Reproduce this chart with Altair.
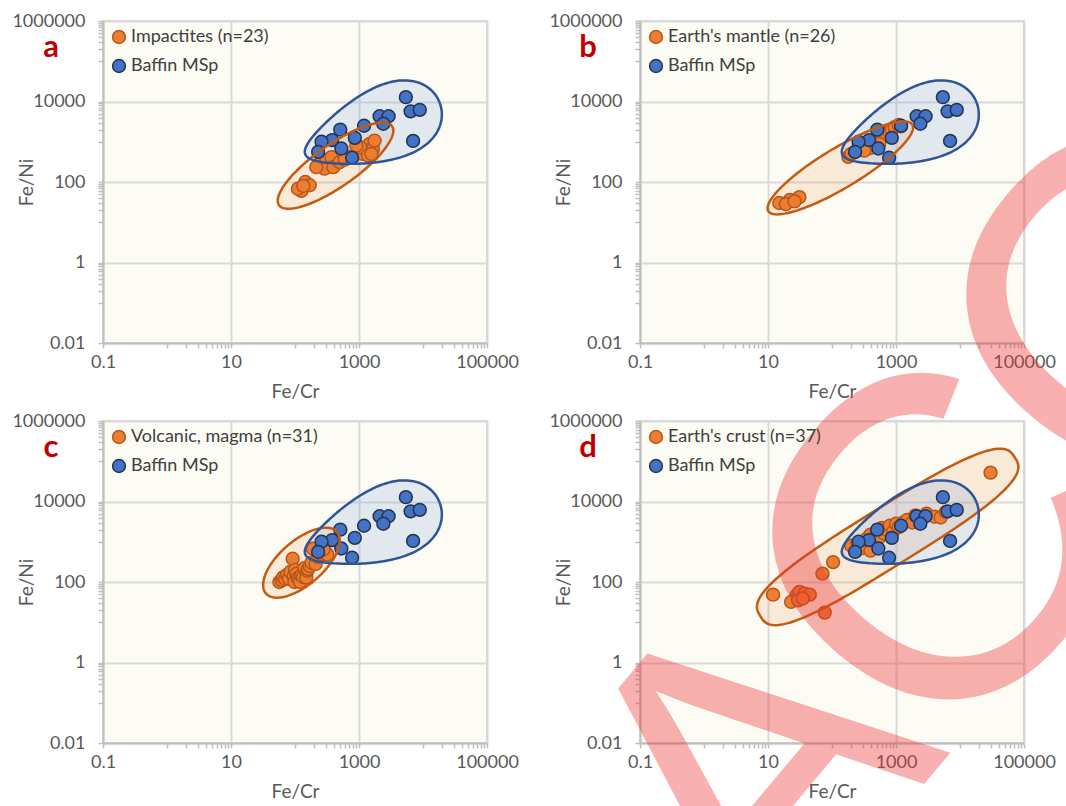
import numpy as np
import pandas as pd
import altair as alt

FONT = "Lato"
ORANGE, ORANGE_D = "#ed7d31", "#b5561b"
BLUE, BLUE_D = "#4472c4", "#24344f"
O_LINE, B_LINE = "#c55a11", "#2f5597"

# ---------------- data ----------------
baffin_x = [5400, 6400, 8900, 7000, 2100, 2900, 2400, 1200, 510, 860, 380, 260, 530, 230, 780]
baffin_y = [12800, 5700, 6200, 1050, 4300, 4300, 2800, 2500, 2000, 1250, 1100, 1000, 680, 560, 400]

impact_x = [145, 126, 170, 111, 135, 243, 309, 370, 291, 397, 215, 499, 714, 600,
            1470, 1300, 1650, 1150, 1750, 1050, 1380, 910, 1560]
impact_y = [100, 60, 83, 68, 80, 284, 343, 414, 214, 234, 234, 312, 414, 360,
            885, 605, 665, 500, 1070, 730, 455, 800, 500]

mantle_x = [15, 22, 31, 19, 26, 180, 200, 230, 260, 300, 350, 380, 420, 480, 520, 600,
            650, 700, 780, 850, 950, 1100, 1200, 400, 550, 320]
mantle_y = [30, 36, 42, 28, 33, 420, 500, 560, 620, 700, 800, 900, 1000, 1100, 1250, 1400,
            1500, 1600, 1800, 2000, 2300, 2600, 2400, 700, 900, 600]

volc_x = [57, 62, 65, 70, 75, 80, 85, 92, 95, 98, 100, 105, 110, 115, 120, 125, 133, 140,
          150, 155, 160, 170, 180, 190, 210, 230, 257, 270, 300, 320, 280]
volc_y = [100, 110, 130, 119, 150, 120, 180, 379, 140, 100, 200, 160, 125, 115, 100, 145,
          133, 220, 130, 190, 210, 250, 300, 670, 280, 420, 500, 600, 550, 480, 650]

crust_x = [12, 28, 31, 37.5, 45, 23, 29.5, 35, 77, 71, 104,
           200, 250, 300, 350, 400, 450, 500, 550, 600, 650, 700, 800, 900, 1000, 1100,
           1300, 1500, 1800, 2000, 2500, 3000, 4000, 5000, 6000, 400, 30000]
crust_y = [48.5, 47, 57, 51, 48.5, 32, 35, 39, 17.4, 161, 313,
           800, 900, 700, 1200, 1500, 1000, 1800, 1300, 2200, 1600, 2000, 2500, 1800, 2800, 2300,
           3000, 3500, 3000, 4500, 3800, 5000, 4200, 4000, 5500, 600, 52000]

# enclosing shapes: centre (data units), semi-axes (px), angle (deg), egg factor, exponent
PX_X, PX_Y = 64.0, 40.3  # px per decade, used only to shape the outlines
blue_shape = dict(cx=1620, cy=2150, a=72, b=35, ang=21, k=0.4, p=2.0)
panels = [
    dict(letter="a", name="Impactites (n=23)", x=impact_x, y=impact_y,
         shape=dict(cx=430, cy=255, a=69, b=21, ang=35, k=0.0, p=2.0)),
    dict(letter="b", name="Earth's mantle (n=26)", x=mantle_x, y=mantle_y,
         shape=dict(cx=135, cy=224, a=84, b=20, ang=31, k=0.0, p=2.0)),
    dict(letter="c", name="Volcanic, magma (n=31)", x=volc_x, y=volc_y,
         shape=dict(cx=126, cy=302, a=47, b=22, ang=41, k=0.0, p=2.0)),
    dict(letter="d", name="Earth's crust (n=37)", x=crust_x, y=crust_y,
         shape=dict(cx=741, cy=1318, a=150, b=29, ang=32, k=0.0, p=3.0)),
]

# watermark glyphs (text, font size)
wm_glyphs = ["A", "C", "C"]
wm_sizes = [430, 460, 460]

x_major = [0.1, 10, 1000, 100000]
y_major = [0.01, 1, 100, 10000, 1000000]


def minors(majors):
    out = []
    for m in majors[:-1]:
        out += [round(m * 10 * k, 10) for k in range(1, 10)]
    return out


x_ticks = x_major + minors(x_major)
y_ticks = y_major + minors(y_major)


def outline(cx, cy, a, b, ang, k, p, n=181):
    t = np.linspace(0, 2 * np.pi, n)
    c, s = np.cos(t), np.sin(t)
    u = a * np.sign(c) * np.abs(c) ** (2 / p)
    v = b * np.sign(s) * np.abs(s) ** (2 / p) * (1 + k * c)
    th = np.radians(ang)
    X = u * np.cos(th) - v * np.sin(th)
    Y = u * np.sin(th) + v * np.cos(th)
    return pd.DataFrame({"x": 10 ** (np.log10(cx) + X / PX_X),
                         "y": 10 ** (np.log10(cy) + Y / PX_Y),
                         "i": np.arange(n)})


def axis_common(majors):
    lst = ",".join(repr(m) for m in majors)
    return dict(
        labelExpr=f"indexof([{lst}], datum.value) >= 0 ? (datum.value < 1 ? format(datum.value, '~g') : format(datum.value, 'd')) : ''",
        gridOpacity={"condition": {"test": f"indexof([{lst}], datum.value) >= 0", "value": 1}, "value": 0},
    )


def make_axes():
    x_axis = alt.Axis(title="Fe/Cr", values=x_ticks, labelOverlap=False, labelFlush=False,
                      labelBound=False, labelPadding=5, titlePadding=11, **axis_common(x_major))
    y_axis = alt.Axis(title="Fe/Ni", values=y_ticks, labelOverlap=False, labelFlush=False,
                      labelBound=False, labelPadding=13, titleX=-77, titleY=161,
                      titleBaseline="middle", titleAngle=270, **axis_common(y_major))
    return x_axis, y_axis


def panel(pd_, last=False):
    x_axis, y_axis = make_axes()
    xs = alt.Scale(type="log", domain=[0.1, 100000], nice=False)
    ys = alt.Scale(type="log", domain=[0.01, 1000000], nice=False)
    X = alt.X("x:Q", scale=xs, axis=x_axis)
    Y = alt.Y("y:Q", scale=ys, axis=y_axis)

    pts = pd.concat([
        pd.DataFrame({"x": pd_["x"], "y": pd_["y"], "group": pd_["name"]}),
        pd.DataFrame({"x": baffin_x, "y": baffin_y, "group": "Baffin MSp"}),
    ], ignore_index=True)
    pts["o"] = np.arange(len(pts))

    o_df = outline(**pd_["shape"])
    b_df = outline(**blue_shape)

    dom = [pd_["name"], "Baffin MSp"]
    leg = alt.Legend(title=None, orient="top-left", symbolType="circle", labelLimit=0)

    fill_o = alt.Chart(o_df).mark_line(fill=ORANGE, fillOpacity=0.14, strokeOpacity=0).encode(
        x=X, y=Y, order="i:Q")
    fill_b = alt.Chart(b_df).mark_line(fill="#8eaadb", fillOpacity=0.25, strokeOpacity=0).encode(
        x=X, y=Y, order="i:Q")
    points = alt.Chart(pts).mark_point(filled=True, size=165, strokeWidth=1.5, opacity=1,
                                       fillOpacity=1, shape="circle").encode(
        x=X, y=Y,
        fill=alt.Fill("group:N", scale=alt.Scale(domain=dom, range=[ORANGE, BLUE]), legend=leg),
        stroke=alt.Stroke("group:N", scale=alt.Scale(domain=dom, range=[ORANGE_D, BLUE_D]), legend=leg),
        order="o:Q",
    )
    line_o = alt.Chart(o_df).mark_line(stroke=O_LINE, strokeWidth=2.5).encode(x=X, y=Y, order="i:Q")
    line_b = alt.Chart(b_df).mark_line(stroke=B_LINE, strokeWidth=2.5).encode(x=X, y=Y, order="i:Q")
    letter = alt.Chart(pd.DataFrame({"t": [pd_["letter"]]})).mark_text(
        font=FONT, fontSize=31, fontWeight="bold", color="#c00000", align="center", baseline="middle"
    ).encode(x=alt.value(-52), y=alt.value(27), text="t:N")

    layers = [fill_o, fill_b, points, line_o, line_b, letter]
    if last:
        # watermark glyph centres, relative to this panel's plot area
        spots = [(120, 358), (306, 137), (500, -100)]
        for g, fs, (gx, gy) in zip(wm_glyphs, wm_sizes, spots):
            wm = alt.Chart(pd.DataFrame({"t": [g]})).mark_text(
                font="Liberation Sans", fontSize=fs, color="#ee3333", opacity=0.38,
                align="center", baseline="middle", angle=310
            ).encode(x=alt.value(gx), y=alt.value(gy), text="t:N")
            layers.append(wm)
    return alt.layer(*layers).properties(width=384, height=322)


charts = [panel(p, last=(i == 3)) for i, p in enumerate(panels)]
chart = alt.concat(*charts, columns=2, spacing={"row": 78, "column": 153}, bounds="flush").resolve_scale(
    fill="independent", stroke="independent").resolve_legend(fill="independent", stroke="independent")

# fixed-size canvas: content outside the 1066x806 window is simply cut off
chart = chart.properties(
    autosize=alt.AutoSizeParams(type="none"),
    padding={"left": 103, "top": 21, "right": 963, "bottom": 785},
    background="white",
).configure_view(
    fill="#fcfcf4", stroke="#d9d9d9", strokeWidth=2
).configure_axis(
    labelFont=FONT, labelFontSize=18, labelColor="#595959",
    titleFont=FONT, titleFontSize=19, titleColor="#595959", titleFontWeight="normal",
    tickColor="#bfbfbf", tickSize=5, tickWidth=1.5,
    domainColor="#bfbfbf", domainWidth=2,
    gridColor="#d9d9d9", gridWidth=2,
).configure_legend(
    labelFont=FONT, labelFontSize=18, labelColor="#404040",
    symbolSize=165, symbolStrokeWidth=1.5, rowPadding=9, offset=7, padding=0,
    labelOffset=3, symbolOpacity=1,
)

chart.save("out.html", embed_options={"renderer": "svg", "actions": False})
